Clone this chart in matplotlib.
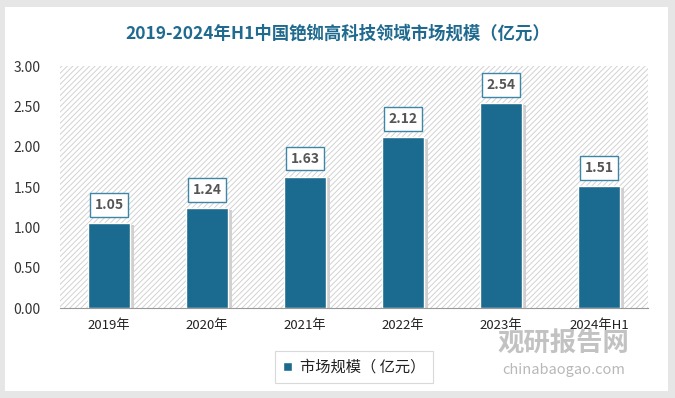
import matplotlib.pyplot as plt
from matplotlib.patches import Rectangle

plt.rcParams['font.family'] = ['Noto Sans CJK SC', 'DejaVu Sans']
plt.rcParams['hatch.linewidth'] = 0.7

years = ['2019年', '2020年', '2021年', '2022年', '2023年', '2024年H1']
values = [1.05, 1.24, 1.63, 2.12, 2.54, 1.51]
yticks = [0.00, 0.50, 1.00, 1.50, 2.00, 2.50, 3.00]

bar_color = '#1b6a8f'

fig = plt.figure(figsize=(6.75, 3.98), dpi=100, facecolor='#e6e6e6')
# white card
fig.patches.append(Rectangle((0.008, 0.018), 0.982, 0.965, transform=fig.transFigure,
                             facecolor='white', edgecolor='none', zorder=-10))

ax = fig.add_axes([0.089, 0.226, 0.871, 0.608])
ax.set_facecolor('none')
ax.add_patch(Rectangle((0, 0), 1, 1, transform=ax.transAxes, facecolor='white',
                       edgecolor='#d2d2d2', hatch='//////', linewidth=0, zorder=0))

x = range(len(years))
# soft shadow
ax.bar([i + 0.04 for i in x], [v - 0.02 for v in values], width=0.42, color='#d0d0d0', zorder=1)
bars = ax.bar(x, values, width=0.42, color=bar_color, edgecolor='white', linewidth=1, zorder=2)

for i, v in enumerate(values):
    ax.annotate(f'{v:.2f}', (i, v), xytext=(0, 13), textcoords='offset points',
                ha='center', va='center', fontsize=10, fontweight='bold', color='#555555',
                bbox=dict(boxstyle='square,pad=0.35', facecolor='white', edgecolor='#3d86a8', linewidth=1))

ax.set_xlim(-0.5, len(years) - 0.5)
ax.set_ylim(0, 3.0)
ax.set_yticks(yticks)
ax.set_yticklabels([f'{t:.2f}' for t in yticks], fontsize=10, color='#333333')
ax.set_xticks(list(x))
ax.set_xticklabels(years, fontsize=9.5, color='#222222')
ax.tick_params(length=0, pad=8)
ax.tick_params(axis='y', pad=14)
for s in ['top', 'right', 'left']:
    ax.spines[s].set_visible(False)
ax.spines['bottom'].set_color('#999999')

fig.text(0.5, 0.915, '2019-2024年H1中国铯铷高科技领域市场规模（亿元）', ha='center', va='center',
         fontsize=12.5, fontweight='bold', color='#1f6a8e')

leg = ax.legend(bars[:1], ['市场规模（ 亿元）'], loc='center', bbox_to_anchor=(0.5, -0.245),
                frameon=True, fancybox=False, fontsize=11, handlelength=0.6, handleheight=0.6,
                borderpad=0.5, handletextpad=0.5, borderaxespad=0)
leg.get_frame().set_edgecolor('#d0d0d0')
leg.get_frame().set_linewidth(0.8)
leg._legend_box.align = 'center'
# widen the legend box like the reference
leg.get_frame().set_boxstyle('square', pad=0)
for t in leg.get_texts():
    t.set_color('#222222')

# watermark
fig.text(0.835, 0.135, '观研报告网', ha='center', va='center', fontsize=19, fontweight='bold',
         color='#9a9a9a', alpha=0.6)
fig.text(0.835, 0.07, 'chinabaogao.com', ha='center', va='center', fontsize=10.5,
         color='#9a9a9a', alpha=0.7)

fig.savefig('out.png', dpi=100, facecolor=fig.get_facecolor())
